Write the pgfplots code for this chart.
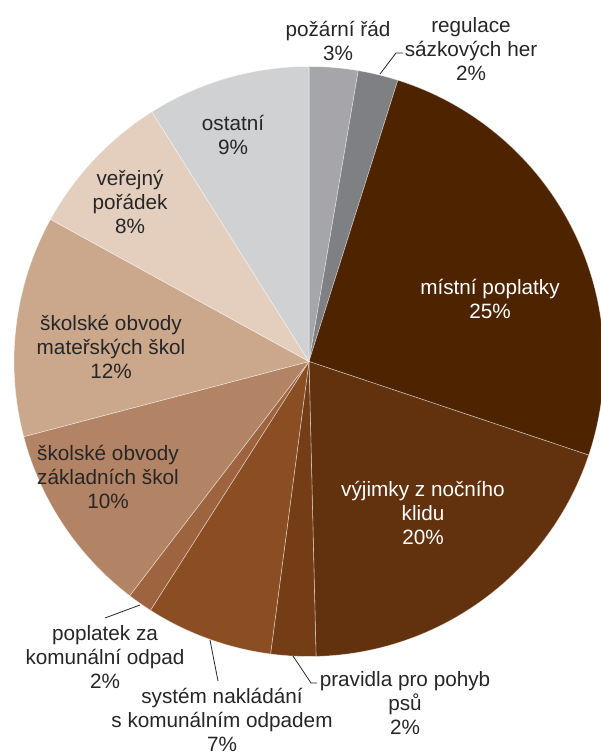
\documentclass[border=0pt]{standalone}
\usepackage{pgfplots}
\usepackage{pgfplotstable}
\pgfplotsset{compat=1.18}
\usepackage{fontspec}
\setmainfont{Liberation Sans}
\definecolor{cA}{RGB}{166,166,170}
\definecolor{cB}{RGB}{127,128,131}
\definecolor{cC}{RGB}{78,36,0}
\definecolor{cD}{RGB}{98,50,14}
\definecolor{cE}{RGB}{117,61,22}
\definecolor{cF}{RGB}{139,78,35}
\definecolor{cG}{RGB}{158,100,64}
\definecolor{cH}{RGB}{178,132,101}
\definecolor{cI}{RGB}{203,167,140}
\definecolor{cJ}{RGB}{228,207,190}
\definecolor{cK}{RGB}{208,209,211}
\definecolor{txt}{RGB}{38,38,38}
\pgfplotstableread{
v c
2.67 cA
2.20 cB
25.27 cC
19.48 cD
2.46 cE
6.95 cF
1.37 cG
10.50 cH
12.10 cI
8.06 cJ
8.94 cK
}\piedata
\begin{document}
\begin{tikzpicture}
\begin{axis}[name=ax, hide axis, scale only axis, width=601bp, height=755bp,
  xmin=0, xmax=601, ymin=0, ymax=755, clip=false]
\xdef\cum{0}
\pgfplotsforeachungrouped \i in {0,...,10}{%
  \pgfplotstablegetelem{\i}{v}\of\piedata \let\val\pgfplotsretval
  \pgfplotstablegetelem{\i}{c}\of\piedata \let\col\pgfplotsretval
  \pgfmathsetmacro\a{90-3.6*\cum}%
  \pgfmathsetmacro\b{90-3.6*(\cum+\val)}%
  \edef\tmp{\noexpand\fill[\col, draw=white, draw opacity=0.5, line width=0.6bp] (axis cs:309,393.5) -- ++(\a:295bp) arc[start angle=\a, end angle=\b, radius=295bp] -- cycle;}%
  \tmp
  \pgfmathsetmacro\cum{\cum+\val}%
  \xdef\cum{\cum}%
}
\tikzset{lbl/.style={align=center, inner sep=0pt, text=txt, font=\fontsize{20.8}{24.5}\selectfont}}
% leader lines
\draw[txt, line width=0.8bp] (axis cs:403,702) -- (axis cs:396,702) -- (axis cs:380,681);
\draw[txt, line width=0.8bp] (axis cs:293,99) -- (axis cs:311,72) -- (axis cs:317,72);
\draw[txt, line width=0.8bp] (axis cs:140,150) -- (axis cs:105,137);
\draw[txt, line width=0.8bp] (axis cs:210,115) -- (axis cs:218,74);
% labels
\node[lbl] at (axis cs:338,714) {požární řád\\3\%};
\node[lbl] at (axis cs:471,706) {regulace\\sázkových her\\2\%};
\node[lbl, text=white] at (axis cs:490,456) {místní poplatky\\25\%};
\node[lbl, text=white] at (axis cs:423,242) {výjimky z nočního\\klidu\\20\%};
\node[lbl] at (axis cs:405,52) {pravidla pro pohyb\\psů\\2\%};
\node[lbl] at (axis cs:105,98) {poplatek za\\komunální odpad\\2\%};
\node[lbl] at (axis cs:222,35) {systém nakládání\\s komunálním odpadem\\7\%};
\node[lbl] at (axis cs:108,278) {školské obvody\\základních škol\\10\%};
\node[lbl] at (axis cs:111,408) {školské obvody\\mateřských škol\\12\%};
\node[lbl] at (axis cs:130,553) {veřejný\\pořádek\\8\%};
\node[lbl] at (axis cs:233,620) {ostatní\\9\%};
\end{axis}
\pgfresetboundingbox
\path (ax.south west) rectangle (ax.north east);
\end{tikzpicture}
\end{document}
